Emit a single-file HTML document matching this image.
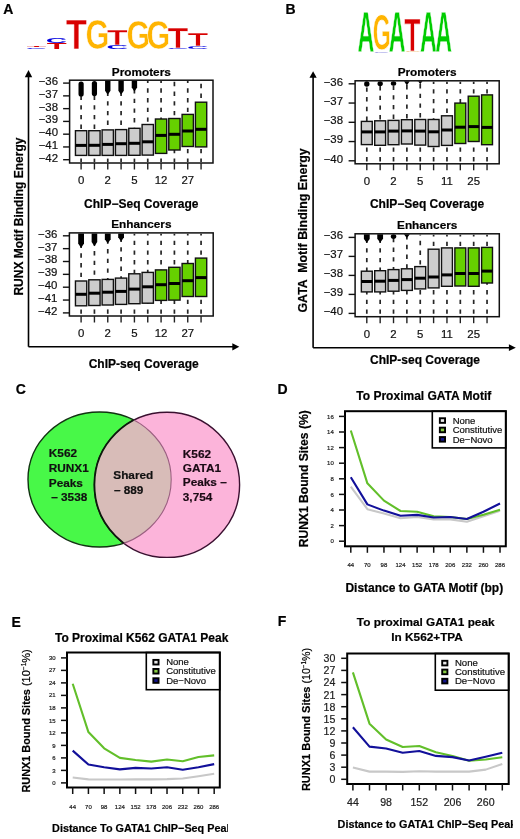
<!DOCTYPE html><html><head><meta charset="utf-8"><style>html,body{margin:0;padding:0;background:#fff;width:520px;height:839px;overflow:hidden}svg{display:block;will-change:transform}text{font-family:"Liberation Sans",sans-serif}</style></head><body>
<svg width="520" height="839" viewBox="0 0 520 839">
<rect width="520" height="839" fill="#fff"/>
<text x="3.2" y="14.1" font-size="14" font-weight="bold" text-anchor="start" fill="#000" stroke="#000" stroke-width="0.2" >A</text>
<text x="285.4" y="14.1" font-size="14" font-weight="bold" text-anchor="start" fill="#000" stroke="#000" stroke-width="0.2" >B</text>
<text x="15.8" y="394.2" font-size="14" font-weight="bold" text-anchor="start" fill="#000" stroke="#000" stroke-width="0.2" >C</text>
<text x="277.5" y="394.3" font-size="14" font-weight="bold" text-anchor="start" fill="#000" stroke="#000" stroke-width="0.2" >D</text>
<text x="11.5" y="627" font-size="14" font-weight="bold" text-anchor="start" fill="#000" stroke="#000" stroke-width="0.2" >E</text>
<text x="277.8" y="625.6" font-size="14" font-weight="bold" text-anchor="start" fill="#000" stroke="#000" stroke-width="0.2" >F</text>
<text x="0" y="0" font-size="100" font-weight="bold" fill="#d80000" transform="translate(26.65,46.9) scale(0.3226,0.0203)">T</text>
<text x="0" y="0" font-size="100" font-weight="bold" fill="#0000e0" transform="translate(25.81,48.58) scale(0.2905,0.0169)">C</text>
<text x="0" y="0" font-size="100" font-weight="bold" fill="#0000e0" transform="translate(45.8,43.12) scale(0.2936,0.0791)">C</text>
<text x="0" y="0" font-size="100" font-weight="bold" fill="#d80000" transform="translate(46.64,49) scale(0.3260,0.0814)">T</text>
<text x="0" y="0" font-size="100" font-weight="bold" fill="#d80000" stroke="#fff" stroke-width="0.6" vector-effect="non-scaling-stroke" transform="translate(65.82,49.3) scale(0.3497,0.4302)">T</text>
<text x="0" y="0" font-size="100" font-weight="bold" fill="#ffb400" stroke="#fff" stroke-width="0.6" vector-effect="non-scaling-stroke" transform="translate(85.44,49.08) scale(0.3081,0.4209)">G</text>
<text x="0" y="0" font-size="100" font-weight="bold" fill="#d80000" stroke="#fff" stroke-width="0.6" vector-effect="non-scaling-stroke" transform="translate(106.82,44.6) scale(0.3463,0.2137)">T</text>
<text x="0" y="0" font-size="100" font-weight="bold" fill="#0000e0" transform="translate(106.26,48.94) scale(0.3028,0.0621)">C</text>
<text x="0" y="0" font-size="100" font-weight="bold" fill="#ffb400" stroke="#fff" stroke-width="0.6" vector-effect="non-scaling-stroke" transform="translate(126.45,49.09) scale(0.3052,0.4124)">G</text>
<text x="0" y="0" font-size="100" font-weight="bold" fill="#ffb400" stroke="#fff" stroke-width="0.6" vector-effect="non-scaling-stroke" transform="translate(146.45,49.09) scale(0.3052,0.4124)">G</text>
<text x="0" y="0" font-size="100" font-weight="bold" fill="#d80000" stroke="#fff" stroke-width="0.6" vector-effect="non-scaling-stroke" transform="translate(167.62,47.5) scale(0.3413,0.2892)">T</text>
<text x="0" y="0" font-size="100" font-weight="bold" fill="#0000e0" transform="translate(167.08,48.88) scale(0.2982,0.0226)">C</text>
<text x="0" y="0" font-size="100" font-weight="bold" fill="#d80000" stroke="#fff" stroke-width="0.6" vector-effect="non-scaling-stroke" transform="translate(187.62,46) scale(0.3413,0.1860)">T</text>
<text x="0" y="0" font-size="100" font-weight="bold" fill="#0000e0" transform="translate(187.08,48.56) scale(0.2982,0.0395)">C</text>
<text x="0" y="0" font-size="100" font-weight="bold" fill="#00cc00" stroke="#fff" stroke-width="0.6" vector-effect="non-scaling-stroke" transform="translate(357.42,52.3) scale(0.2325,0.5799)">A</text>
<text x="0" y="0" font-size="100" font-weight="bold" fill="#ffb400" stroke="#fff" stroke-width="0.6" vector-effect="non-scaling-stroke" transform="translate(372.65,50.31) scale(0.2311,0.4944)">G</text>
<text x="0" y="0" font-size="100" font-weight="bold" fill="#9090e0" transform="translate(373.62,52.57) scale(0.2141,0.0254)">C</text>
<text x="0" y="0" font-size="100" font-weight="bold" fill="#00cc00" stroke="#fff" stroke-width="0.6" vector-effect="non-scaling-stroke" transform="translate(388.72,52.3) scale(0.2325,0.5799)">A</text>
<text x="0" y="0" font-size="100" font-weight="bold" fill="#d80000" stroke="#fff" stroke-width="0.6" vector-effect="non-scaling-stroke" transform="translate(404.21,50.9) scale(0.2649,0.4622)">T</text>
<text x="0" y="0" font-size="100" font-weight="bold" fill="#f0c080" transform="translate(404.65,52.47) scale(0.2074,0.0254)">G</text>
<text x="0" y="0" font-size="100" font-weight="bold" fill="#00cc00" stroke="#fff" stroke-width="0.6" vector-effect="non-scaling-stroke" transform="translate(419.92,52.3) scale(0.2325,0.5799)">A</text>
<text x="0" y="0" font-size="100" font-weight="bold" fill="#00cc00" stroke="#fff" stroke-width="0.6" vector-effect="non-scaling-stroke" transform="translate(435.32,52.3) scale(0.2325,0.5799)">A</text>
<line x1="81.1" y1="95.5" x2="81.1" y2="130.7" stroke="#262626" stroke-width="1.7" stroke-dasharray="4.4 5.3" stroke-dashoffset="0"/>
<line x1="81.1" y1="162.1" x2="81.1" y2="155.4" stroke="#262626" stroke-width="1.7" stroke-dasharray="4.4 5.3" stroke-dashoffset="0.9"/>
<rect x="75.45" y="130.7" width="11.3" height="24.7" fill="#cdcdcd" stroke="#111" stroke-width="1.4"/>
<line x1="75.45" y1="145.4" x2="86.75" y2="145.4" stroke="#000" stroke-width="3" />
<rect x="78.5" y="81.5" width="5.2" height="15.1" rx="2.6" fill="#000"/>
<line x1="94.43" y1="95.5" x2="94.43" y2="130.7" stroke="#262626" stroke-width="1.7" stroke-dasharray="4.4 5.3" stroke-dashoffset="0"/>
<line x1="94.43" y1="162.1" x2="94.43" y2="155.4" stroke="#262626" stroke-width="1.7" stroke-dasharray="4.4 5.3" stroke-dashoffset="0.9"/>
<rect x="88.78" y="130.7" width="11.3" height="24.7" fill="#cdcdcd" stroke="#111" stroke-width="1.4"/>
<line x1="88.78" y1="145.3" x2="100.08" y2="145.3" stroke="#000" stroke-width="3" />
<rect x="91.83" y="81" width="5.2" height="15.2" rx="2.6" fill="#000"/>
<line x1="107.76" y1="91.5" x2="107.76" y2="129.9" stroke="#262626" stroke-width="1.7" stroke-dasharray="4.4 5.3" stroke-dashoffset="0"/>
<line x1="107.76" y1="162.1" x2="107.76" y2="155.4" stroke="#262626" stroke-width="1.7" stroke-dasharray="4.4 5.3" stroke-dashoffset="0.9"/>
<rect x="102.11" y="129.9" width="11.3" height="25.5" fill="#cdcdcd" stroke="#111" stroke-width="1.4"/>
<line x1="102.11" y1="144.4" x2="113.41" y2="144.4" stroke="#000" stroke-width="3" />
<path d="M105.06,80.5 H110.46 V90.75 L107.76,94.8 L105.06,90.75 Z" fill="#000"/>
<line x1="121.09" y1="91.5" x2="121.09" y2="129.6" stroke="#262626" stroke-width="1.7" stroke-dasharray="4.4 5.3" stroke-dashoffset="0"/>
<line x1="121.09" y1="162.1" x2="121.09" y2="155.4" stroke="#262626" stroke-width="1.7" stroke-dasharray="4.4 5.3" stroke-dashoffset="0.9"/>
<rect x="115.44" y="129.6" width="11.3" height="25.8" fill="#cdcdcd" stroke="#111" stroke-width="1.4"/>
<line x1="115.44" y1="143.7" x2="126.74" y2="143.7" stroke="#000" stroke-width="3" />
<path d="M118.39,80.5 H123.79 V90.75 L121.09,94.8 L118.39,90.75 Z" fill="#000"/>
<line x1="134.42" y1="89" x2="134.42" y2="128.3" stroke="#262626" stroke-width="1.7" stroke-dasharray="4.4 5.3" stroke-dashoffset="0"/>
<line x1="134.42" y1="162.1" x2="134.42" y2="155.3" stroke="#262626" stroke-width="1.7" stroke-dasharray="4.4 5.3" stroke-dashoffset="0.9"/>
<rect x="128.77" y="128.3" width="11.3" height="27" fill="#cdcdcd" stroke="#111" stroke-width="1.4"/>
<line x1="128.77" y1="143.3" x2="140.07" y2="143.3" stroke="#000" stroke-width="3" />
<path d="M131.72,80.5 H137.12 V87.45 L134.42,91.5 L131.72,87.45 Z" fill="#000"/>
<line x1="147.75" y1="81.1" x2="147.75" y2="124.5" stroke="#262626" stroke-width="1.7" stroke-dasharray="4.4 5.3" stroke-dashoffset="2.5"/>
<line x1="147.75" y1="162.1" x2="147.75" y2="155.1" stroke="#262626" stroke-width="1.7" stroke-dasharray="4.4 5.3" stroke-dashoffset="0.9"/>
<rect x="142.1" y="124.5" width="11.3" height="30.6" fill="#cdcdcd" stroke="#111" stroke-width="1.4"/>
<line x1="142.1" y1="141.8" x2="153.4" y2="141.8" stroke="#000" stroke-width="3" />
<line x1="161.08" y1="81.1" x2="161.08" y2="119" stroke="#262626" stroke-width="1.7" stroke-dasharray="4.4 5.3" stroke-dashoffset="2.5"/>
<line x1="161.08" y1="162.1" x2="161.08" y2="153.4" stroke="#262626" stroke-width="1.7" stroke-dasharray="4.4 5.3" stroke-dashoffset="0.9"/>
<rect x="155.43" y="119" width="11.3" height="34.4" fill="#66d000" stroke="#111" stroke-width="1.4"/>
<line x1="155.43" y1="135.4" x2="166.73" y2="135.4" stroke="#000" stroke-width="3" />
<line x1="174.41" y1="81.8" x2="174.41" y2="118.5" stroke="#262626" stroke-width="1.7" stroke-dasharray="4.4 5.3" stroke-dashoffset="0"/>
<line x1="174.41" y1="162.1" x2="174.41" y2="150" stroke="#262626" stroke-width="1.7" stroke-dasharray="4.4 5.3" stroke-dashoffset="0.9"/>
<rect x="168.76" y="118.5" width="11.3" height="31.5" fill="#66d000" stroke="#111" stroke-width="1.4"/>
<line x1="168.76" y1="134.3" x2="180.06" y2="134.3" stroke="#000" stroke-width="3" />
<line x1="187.74" y1="81.1" x2="187.74" y2="114.4" stroke="#262626" stroke-width="1.7" stroke-dasharray="4.4 5.3" stroke-dashoffset="2.5"/>
<line x1="187.74" y1="162.1" x2="187.74" y2="146.5" stroke="#262626" stroke-width="1.7" stroke-dasharray="4.4 5.3" stroke-dashoffset="0.9"/>
<rect x="182.09" y="114.4" width="11.3" height="32.1" fill="#66d000" stroke="#111" stroke-width="1.4"/>
<line x1="182.09" y1="131" x2="193.39" y2="131" stroke="#000" stroke-width="3" />
<line x1="201.07" y1="83.8" x2="201.07" y2="102.2" stroke="#262626" stroke-width="1.7" stroke-dasharray="4.4 5.3" stroke-dashoffset="0"/>
<line x1="201.07" y1="162.1" x2="201.07" y2="146.9" stroke="#262626" stroke-width="1.7" stroke-dasharray="4.4 5.3" stroke-dashoffset="0.9"/>
<rect x="195.42" y="102.2" width="11.3" height="44.7" fill="#66d000" stroke="#111" stroke-width="1.4"/>
<line x1="195.42" y1="129.3" x2="206.72" y2="129.3" stroke="#000" stroke-width="3" />
<rect x="69.6" y="80.2" width="143.4" height="82.8" fill="none" stroke="#111" stroke-width="1.5"/>
<line x1="63.1" y1="83.1" x2="69.6" y2="83.1" stroke="#111" stroke-width="1.4" />
<text x="58" y="85" font-size="11.4" font-weight="normal" text-anchor="end" fill="#111" stroke="#111" stroke-width="0.2" >−36</text>
<line x1="63.1" y1="95.87" x2="69.6" y2="95.87" stroke="#111" stroke-width="1.4" />
<text x="58" y="97.77" font-size="11.4" font-weight="normal" text-anchor="end" fill="#111" stroke="#111" stroke-width="0.2" >−37</text>
<line x1="63.1" y1="108.64" x2="69.6" y2="108.64" stroke="#111" stroke-width="1.4" />
<text x="58" y="110.54" font-size="11.4" font-weight="normal" text-anchor="end" fill="#111" stroke="#111" stroke-width="0.2" >−38</text>
<line x1="63.1" y1="121.41" x2="69.6" y2="121.41" stroke="#111" stroke-width="1.4" />
<text x="58" y="123.31" font-size="11.4" font-weight="normal" text-anchor="end" fill="#111" stroke="#111" stroke-width="0.2" >−39</text>
<line x1="63.1" y1="134.18" x2="69.6" y2="134.18" stroke="#111" stroke-width="1.4" />
<text x="58" y="136.08" font-size="11.4" font-weight="normal" text-anchor="end" fill="#111" stroke="#111" stroke-width="0.2" >−40</text>
<line x1="63.1" y1="146.95" x2="69.6" y2="146.95" stroke="#111" stroke-width="1.4" />
<text x="58" y="148.85" font-size="11.4" font-weight="normal" text-anchor="end" fill="#111" stroke="#111" stroke-width="0.2" >−41</text>
<line x1="63.1" y1="159.72" x2="69.6" y2="159.72" stroke="#111" stroke-width="1.4" />
<text x="58" y="161.62" font-size="11.4" font-weight="normal" text-anchor="end" fill="#111" stroke="#111" stroke-width="0.2" >−42</text>
<line x1="81.1" y1="163" x2="81.1" y2="169.5" stroke="#222" stroke-width="1.4" />
<line x1="94.43" y1="163" x2="94.43" y2="169.5" stroke="#222" stroke-width="1.4" />
<line x1="107.76" y1="163" x2="107.76" y2="169.5" stroke="#222" stroke-width="1.4" />
<line x1="121.09" y1="163" x2="121.09" y2="169.5" stroke="#222" stroke-width="1.4" />
<line x1="134.42" y1="163" x2="134.42" y2="169.5" stroke="#222" stroke-width="1.4" />
<line x1="147.75" y1="163" x2="147.75" y2="169.5" stroke="#222" stroke-width="1.4" />
<line x1="161.08" y1="163" x2="161.08" y2="169.5" stroke="#222" stroke-width="1.4" />
<line x1="174.41" y1="163" x2="174.41" y2="169.5" stroke="#222" stroke-width="1.4" />
<line x1="187.74" y1="163" x2="187.74" y2="169.5" stroke="#222" stroke-width="1.4" />
<line x1="201.07" y1="163" x2="201.07" y2="169.5" stroke="#222" stroke-width="1.4" />
<text x="81.1" y="184.3" font-size="11.4" font-weight="normal" text-anchor="middle" fill="#111" stroke="#111" stroke-width="0.2" >0</text>
<text x="107.76" y="184.3" font-size="11.4" font-weight="normal" text-anchor="middle" fill="#111" stroke="#111" stroke-width="0.2" >2</text>
<text x="134.42" y="184.3" font-size="11.4" font-weight="normal" text-anchor="middle" fill="#111" stroke="#111" stroke-width="0.2" >5</text>
<text x="161.08" y="184.3" font-size="11.4" font-weight="normal" text-anchor="middle" fill="#111" stroke="#111" stroke-width="0.2" >12</text>
<text x="187.74" y="184.3" font-size="11.4" font-weight="normal" text-anchor="middle" fill="#111" stroke="#111" stroke-width="0.2" >27</text>
<text x="141.3" y="75.6" font-size="11.8" font-weight="bold" text-anchor="middle" fill="#000" stroke="#000" stroke-width="0.2" >Promoters</text>
<text x="141.3" y="207.5" font-size="12" font-weight="bold" text-anchor="middle" fill="#000" stroke="#000" stroke-width="0.2" >ChIP−Seq Coverage</text>
<line x1="81.1" y1="243.6" x2="81.1" y2="281" stroke="#262626" stroke-width="1.7" stroke-dasharray="4.4 5.3" stroke-dashoffset="0"/>
<line x1="81.1" y1="313.8" x2="81.1" y2="305.8" stroke="#262626" stroke-width="1.7" stroke-dasharray="4.4 5.3" stroke-dashoffset="0"/>
<rect x="75.45" y="281" width="11.3" height="24.8" fill="#cdcdcd" stroke="#111" stroke-width="1.4"/>
<line x1="75.45" y1="294.3" x2="86.75" y2="294.3" stroke="#000" stroke-width="3" />
<path d="M78.2,233.5 H84 V243.55 L81.1,247.9 L78.2,243.55 Z" fill="#000"/>
<line x1="94.43" y1="241.3" x2="94.43" y2="279.8" stroke="#262626" stroke-width="1.7" stroke-dasharray="4.4 5.3" stroke-dashoffset="0"/>
<line x1="94.43" y1="313.8" x2="94.43" y2="305.5" stroke="#262626" stroke-width="1.7" stroke-dasharray="4.4 5.3" stroke-dashoffset="0"/>
<rect x="88.78" y="279.8" width="11.3" height="25.7" fill="#cdcdcd" stroke="#111" stroke-width="1.4"/>
<line x1="88.78" y1="293.2" x2="100.08" y2="293.2" stroke="#000" stroke-width="3" />
<path d="M91.63,233.5 H97.23 V242 L94.43,246.2 L91.63,242 Z" fill="#000"/>
<line x1="107.76" y1="239.3" x2="107.76" y2="279.4" stroke="#262626" stroke-width="1.7" stroke-dasharray="4.4 5.3" stroke-dashoffset="0"/>
<line x1="107.76" y1="313.8" x2="107.76" y2="305" stroke="#262626" stroke-width="1.7" stroke-dasharray="4.4 5.3" stroke-dashoffset="0"/>
<rect x="102.11" y="279.4" width="11.3" height="25.6" fill="#cdcdcd" stroke="#111" stroke-width="1.4"/>
<line x1="102.11" y1="292.2" x2="113.41" y2="292.2" stroke="#000" stroke-width="3" />
<path d="M104.86,233.5 H110.66 V239.25 L107.76,243.6 L104.86,239.25 Z" fill="#000"/>
<line x1="121.09" y1="237.5" x2="121.09" y2="278.1" stroke="#262626" stroke-width="1.7" stroke-dasharray="4.4 5.3" stroke-dashoffset="0"/>
<line x1="121.09" y1="313.8" x2="121.09" y2="304.4" stroke="#262626" stroke-width="1.7" stroke-dasharray="4.4 5.3" stroke-dashoffset="0"/>
<rect x="115.44" y="278.1" width="11.3" height="26.3" fill="#cdcdcd" stroke="#111" stroke-width="1.4"/>
<line x1="115.44" y1="291.4" x2="126.74" y2="291.4" stroke="#000" stroke-width="3" />
<path d="M118.19,233.5 H123.99 V237.15 L121.09,241.5 L118.19,237.15 Z" fill="#000"/>
<line x1="134.42" y1="233.8" x2="134.42" y2="273.8" stroke="#262626" stroke-width="1.7" stroke-dasharray="4.4 5.3" stroke-dashoffset="2.8"/>
<line x1="134.42" y1="313.8" x2="134.42" y2="303.7" stroke="#262626" stroke-width="1.7" stroke-dasharray="4.4 5.3" stroke-dashoffset="0"/>
<rect x="128.77" y="273.8" width="11.3" height="29.9" fill="#cdcdcd" stroke="#111" stroke-width="1.4"/>
<line x1="128.77" y1="289.1" x2="140.07" y2="289.1" stroke="#000" stroke-width="3" />
<line x1="147.75" y1="233.8" x2="147.75" y2="272.4" stroke="#262626" stroke-width="1.7" stroke-dasharray="4.4 5.3" stroke-dashoffset="2.8"/>
<line x1="147.75" y1="313.8" x2="147.75" y2="303.2" stroke="#262626" stroke-width="1.7" stroke-dasharray="4.4 5.3" stroke-dashoffset="0"/>
<rect x="142.1" y="272.4" width="11.3" height="30.8" fill="#cdcdcd" stroke="#111" stroke-width="1.4"/>
<line x1="142.1" y1="286.8" x2="153.4" y2="286.8" stroke="#000" stroke-width="3" />
<line x1="161.08" y1="233.8" x2="161.08" y2="269.9" stroke="#262626" stroke-width="1.7" stroke-dasharray="4.4 5.3" stroke-dashoffset="2.8"/>
<line x1="161.08" y1="313.8" x2="161.08" y2="300.4" stroke="#262626" stroke-width="1.7" stroke-dasharray="4.4 5.3" stroke-dashoffset="0"/>
<rect x="155.43" y="269.9" width="11.3" height="30.5" fill="#66d000" stroke="#111" stroke-width="1.4"/>
<line x1="155.43" y1="284.7" x2="166.73" y2="284.7" stroke="#000" stroke-width="3" />
<line x1="174.41" y1="233.8" x2="174.41" y2="267.3" stroke="#262626" stroke-width="1.7" stroke-dasharray="4.4 5.3" stroke-dashoffset="2.8"/>
<line x1="174.41" y1="313.8" x2="174.41" y2="300.1" stroke="#262626" stroke-width="1.7" stroke-dasharray="4.4 5.3" stroke-dashoffset="0"/>
<rect x="168.76" y="267.3" width="11.3" height="32.8" fill="#66d000" stroke="#111" stroke-width="1.4"/>
<line x1="168.76" y1="283.5" x2="180.06" y2="283.5" stroke="#000" stroke-width="3" />
<line x1="187.74" y1="233.8" x2="187.74" y2="263.5" stroke="#262626" stroke-width="1.7" stroke-dasharray="4.4 5.3" stroke-dashoffset="2.8"/>
<line x1="187.74" y1="313.8" x2="187.74" y2="296.5" stroke="#262626" stroke-width="1.7" stroke-dasharray="4.4 5.3" stroke-dashoffset="0"/>
<rect x="182.09" y="263.5" width="11.3" height="33" fill="#66d000" stroke="#111" stroke-width="1.4"/>
<line x1="182.09" y1="280.7" x2="193.39" y2="280.7" stroke="#000" stroke-width="3" />
<line x1="201.07" y1="233.8" x2="201.07" y2="258.1" stroke="#262626" stroke-width="1.7" stroke-dasharray="4.4 5.3" stroke-dashoffset="2.8"/>
<line x1="201.07" y1="313.8" x2="201.07" y2="296.5" stroke="#262626" stroke-width="1.7" stroke-dasharray="4.4 5.3" stroke-dashoffset="0"/>
<rect x="195.42" y="258.1" width="11.3" height="38.4" fill="#66d000" stroke="#111" stroke-width="1.4"/>
<line x1="195.42" y1="277.6" x2="206.72" y2="277.6" stroke="#000" stroke-width="3" />
<rect x="69.4" y="232.9" width="143.8" height="83.1" fill="none" stroke="#111" stroke-width="1.5"/>
<line x1="62.9" y1="235.8" x2="69.4" y2="235.8" stroke="#111" stroke-width="1.4" />
<text x="57.4" y="237.7" font-size="11.4" font-weight="normal" text-anchor="end" fill="#111" stroke="#111" stroke-width="0.2" >−36</text>
<line x1="62.9" y1="248.65" x2="69.4" y2="248.65" stroke="#111" stroke-width="1.4" />
<text x="57.4" y="250.55" font-size="11.4" font-weight="normal" text-anchor="end" fill="#111" stroke="#111" stroke-width="0.2" >−37</text>
<line x1="62.9" y1="261.5" x2="69.4" y2="261.5" stroke="#111" stroke-width="1.4" />
<text x="57.4" y="263.4" font-size="11.4" font-weight="normal" text-anchor="end" fill="#111" stroke="#111" stroke-width="0.2" >−38</text>
<line x1="62.9" y1="274.35" x2="69.4" y2="274.35" stroke="#111" stroke-width="1.4" />
<text x="57.4" y="276.25" font-size="11.4" font-weight="normal" text-anchor="end" fill="#111" stroke="#111" stroke-width="0.2" >−39</text>
<line x1="62.9" y1="287.2" x2="69.4" y2="287.2" stroke="#111" stroke-width="1.4" />
<text x="57.4" y="289.1" font-size="11.4" font-weight="normal" text-anchor="end" fill="#111" stroke="#111" stroke-width="0.2" >−40</text>
<line x1="62.9" y1="300.05" x2="69.4" y2="300.05" stroke="#111" stroke-width="1.4" />
<text x="57.4" y="301.95" font-size="11.4" font-weight="normal" text-anchor="end" fill="#111" stroke="#111" stroke-width="0.2" >−41</text>
<line x1="62.9" y1="312.9" x2="69.4" y2="312.9" stroke="#111" stroke-width="1.4" />
<text x="57.4" y="314.8" font-size="11.4" font-weight="normal" text-anchor="end" fill="#111" stroke="#111" stroke-width="0.2" >−42</text>
<line x1="81.1" y1="316" x2="81.1" y2="322.5" stroke="#222" stroke-width="1.4" />
<line x1="94.43" y1="316" x2="94.43" y2="322.5" stroke="#222" stroke-width="1.4" />
<line x1="107.76" y1="316" x2="107.76" y2="322.5" stroke="#222" stroke-width="1.4" />
<line x1="121.09" y1="316" x2="121.09" y2="322.5" stroke="#222" stroke-width="1.4" />
<line x1="134.42" y1="316" x2="134.42" y2="322.5" stroke="#222" stroke-width="1.4" />
<line x1="147.75" y1="316" x2="147.75" y2="322.5" stroke="#222" stroke-width="1.4" />
<line x1="161.08" y1="316" x2="161.08" y2="322.5" stroke="#222" stroke-width="1.4" />
<line x1="174.41" y1="316" x2="174.41" y2="322.5" stroke="#222" stroke-width="1.4" />
<line x1="187.74" y1="316" x2="187.74" y2="322.5" stroke="#222" stroke-width="1.4" />
<line x1="201.07" y1="316" x2="201.07" y2="322.5" stroke="#222" stroke-width="1.4" />
<text x="81.1" y="336.8" font-size="11.4" font-weight="normal" text-anchor="middle" fill="#111" stroke="#111" stroke-width="0.2" >0</text>
<text x="107.76" y="336.8" font-size="11.4" font-weight="normal" text-anchor="middle" fill="#111" stroke="#111" stroke-width="0.2" >2</text>
<text x="134.42" y="336.8" font-size="11.4" font-weight="normal" text-anchor="middle" fill="#111" stroke="#111" stroke-width="0.2" >5</text>
<text x="161.08" y="336.8" font-size="11.4" font-weight="normal" text-anchor="middle" fill="#111" stroke="#111" stroke-width="0.2" >12</text>
<text x="187.74" y="336.8" font-size="11.4" font-weight="normal" text-anchor="middle" fill="#111" stroke="#111" stroke-width="0.2" >27</text>
<text x="141.3" y="228.3" font-size="11.8" font-weight="bold" text-anchor="middle" fill="#000" stroke="#000" stroke-width="0.2" >Enhancers</text>
<line x1="28.5" y1="76" x2="28.5" y2="346.8" stroke="#000" stroke-width="1.6" />
<line x1="28.5" y1="346.8" x2="233" y2="346.8" stroke="#000" stroke-width="1.6" />
<path d="M24.8,77.2 L28.5,70 L32.2,77.2 Z" fill="#000"/>
<path d="M232.3,343.2 L239.3,346.8 L232.3,350.4 Z" fill="#000"/>
<text x="143.7" y="368.3" font-size="12" font-weight="bold" text-anchor="middle" fill="#000" stroke="#000" stroke-width="0.2" >ChIP-seq Coverage</text>
<text transform="translate(23.2,216.6) rotate(-90)" font-size="12" font-weight="bold" stroke="#000" stroke-width="0.2" text-anchor="middle">RUNX Motif Binding Energy</text>
<line x1="366.8" y1="87.4" x2="366.8" y2="121.4" stroke="#262626" stroke-width="1.7" stroke-dasharray="4.4 5.3" stroke-dashoffset="0"/>
<line x1="366.8" y1="161.5" x2="366.8" y2="144.6" stroke="#262626" stroke-width="1.7" stroke-dasharray="4.4 5.3" stroke-dashoffset="0"/>
<rect x="361.35" y="121.4" width="10.9" height="23.2" fill="#cdcdcd" stroke="#111" stroke-width="1.4"/>
<line x1="361.35" y1="131.9" x2="372.25" y2="131.9" stroke="#000" stroke-width="3" />
<rect x="364.1" y="81.2" width="5.4" height="5.6" rx="2.7" fill="#000"/>
<line x1="380.16" y1="86" x2="380.16" y2="120.8" stroke="#262626" stroke-width="1.7" stroke-dasharray="4.4 5.3" stroke-dashoffset="0"/>
<line x1="380.16" y1="161.5" x2="380.16" y2="145.3" stroke="#262626" stroke-width="1.7" stroke-dasharray="4.4 5.3" stroke-dashoffset="0"/>
<rect x="374.71" y="120.8" width="10.9" height="24.5" fill="#cdcdcd" stroke="#111" stroke-width="1.4"/>
<line x1="374.71" y1="131.9" x2="385.61" y2="131.9" stroke="#000" stroke-width="3" />
<rect x="377.46" y="81.2" width="5.4" height="4.9" rx="2.7" fill="#000"/>
<line x1="393.52" y1="85.5" x2="393.52" y2="120.4" stroke="#262626" stroke-width="1.7" stroke-dasharray="4.4 5.3" stroke-dashoffset="0"/>
<line x1="393.52" y1="161.5" x2="393.52" y2="144.7" stroke="#262626" stroke-width="1.7" stroke-dasharray="4.4 5.3" stroke-dashoffset="0"/>
<rect x="388.07" y="120.4" width="10.9" height="24.3" fill="#cdcdcd" stroke="#111" stroke-width="1.4"/>
<line x1="388.07" y1="131.1" x2="398.97" y2="131.1" stroke="#000" stroke-width="3" />
<rect x="390.82" y="81.2" width="5.4" height="4.5" rx="2.7" fill="#000"/>
<line x1="406.88" y1="85" x2="406.88" y2="119.7" stroke="#262626" stroke-width="1.7" stroke-dasharray="4.4 5.3" stroke-dashoffset="0"/>
<line x1="406.88" y1="161.5" x2="406.88" y2="144" stroke="#262626" stroke-width="1.7" stroke-dasharray="4.4 5.3" stroke-dashoffset="0"/>
<rect x="401.43" y="119.7" width="10.9" height="24.3" fill="#cdcdcd" stroke="#111" stroke-width="1.4"/>
<line x1="401.43" y1="130.9" x2="412.33" y2="130.9" stroke="#000" stroke-width="3" />
<path d="M404.08,81.2 H409.68 V81.2 L406.88,85.4 L404.08,81.2 Z" fill="#000"/>
<line x1="420.24" y1="84" x2="420.24" y2="119.5" stroke="#262626" stroke-width="1.7" stroke-dasharray="4.4 5.3" stroke-dashoffset="0"/>
<line x1="420.24" y1="161.5" x2="420.24" y2="145.1" stroke="#262626" stroke-width="1.7" stroke-dasharray="4.4 5.3" stroke-dashoffset="0"/>
<rect x="414.79" y="119.5" width="10.9" height="25.6" fill="#cdcdcd" stroke="#111" stroke-width="1.4"/>
<line x1="414.79" y1="131.1" x2="425.69" y2="131.1" stroke="#000" stroke-width="3" />
<path d="M417.64,81.2 H422.84 V80.4 L420.24,84.3 L417.64,80.4 Z" fill="#000"/>
<line x1="433.6" y1="81.7" x2="433.6" y2="119.5" stroke="#262626" stroke-width="1.7" stroke-dasharray="4.4 5.3" stroke-dashoffset="2.2"/>
<line x1="433.6" y1="161.5" x2="433.6" y2="146.5" stroke="#262626" stroke-width="1.7" stroke-dasharray="4.4 5.3" stroke-dashoffset="0"/>
<rect x="428.15" y="119.5" width="10.9" height="27" fill="#cdcdcd" stroke="#111" stroke-width="1.4"/>
<line x1="428.15" y1="131.8" x2="439.05" y2="131.8" stroke="#000" stroke-width="3" />
<line x1="446.96" y1="81.7" x2="446.96" y2="115.8" stroke="#262626" stroke-width="1.7" stroke-dasharray="4.4 5.3" stroke-dashoffset="2.2"/>
<line x1="446.96" y1="161.5" x2="446.96" y2="145.4" stroke="#262626" stroke-width="1.7" stroke-dasharray="4.4 5.3" stroke-dashoffset="0"/>
<rect x="441.51" y="115.8" width="10.9" height="29.6" fill="#cdcdcd" stroke="#111" stroke-width="1.4"/>
<line x1="441.51" y1="130" x2="452.41" y2="130" stroke="#000" stroke-width="3" />
<line x1="460.32" y1="81.7" x2="460.32" y2="103.1" stroke="#262626" stroke-width="1.7" stroke-dasharray="4.4 5.3" stroke-dashoffset="2.2"/>
<line x1="460.32" y1="161.5" x2="460.32" y2="143.5" stroke="#262626" stroke-width="1.7" stroke-dasharray="4.4 5.3" stroke-dashoffset="0"/>
<rect x="454.87" y="103.1" width="10.9" height="40.4" fill="#66d000" stroke="#111" stroke-width="1.4"/>
<line x1="454.87" y1="127.2" x2="465.77" y2="127.2" stroke="#000" stroke-width="3" />
<line x1="473.68" y1="81.7" x2="473.68" y2="96.2" stroke="#262626" stroke-width="1.7" stroke-dasharray="4.4 5.3" stroke-dashoffset="2.2"/>
<line x1="473.68" y1="161.5" x2="473.68" y2="141.5" stroke="#262626" stroke-width="1.7" stroke-dasharray="4.4 5.3" stroke-dashoffset="0"/>
<rect x="468.23" y="96.2" width="10.9" height="45.3" fill="#66d000" stroke="#111" stroke-width="1.4"/>
<line x1="468.23" y1="126.6" x2="479.13" y2="126.6" stroke="#000" stroke-width="3" />
<line x1="487.04" y1="81.7" x2="487.04" y2="94.9" stroke="#262626" stroke-width="1.7" stroke-dasharray="4.4 5.3" stroke-dashoffset="2.2"/>
<line x1="487.04" y1="161.5" x2="487.04" y2="144.7" stroke="#262626" stroke-width="1.7" stroke-dasharray="4.4 5.3" stroke-dashoffset="0"/>
<rect x="481.59" y="94.9" width="10.9" height="49.8" fill="#66d000" stroke="#111" stroke-width="1.4"/>
<line x1="481.59" y1="127.4" x2="492.49" y2="127.4" stroke="#000" stroke-width="3" />
<rect x="355.1" y="80.8" width="144.1" height="83" fill="none" stroke="#111" stroke-width="1.5"/>
<line x1="348.6" y1="83.8" x2="355.1" y2="83.8" stroke="#111" stroke-width="1.4" />
<text x="343" y="85.7" font-size="11.4" font-weight="normal" text-anchor="end" fill="#111" stroke="#111" stroke-width="0.2" >−36</text>
<line x1="348.6" y1="103.05" x2="355.1" y2="103.05" stroke="#111" stroke-width="1.4" />
<text x="343" y="104.95" font-size="11.4" font-weight="normal" text-anchor="end" fill="#111" stroke="#111" stroke-width="0.2" >−37</text>
<line x1="348.6" y1="122.3" x2="355.1" y2="122.3" stroke="#111" stroke-width="1.4" />
<text x="343" y="124.2" font-size="11.4" font-weight="normal" text-anchor="end" fill="#111" stroke="#111" stroke-width="0.2" >−38</text>
<line x1="348.6" y1="141.55" x2="355.1" y2="141.55" stroke="#111" stroke-width="1.4" />
<text x="343" y="143.45" font-size="11.4" font-weight="normal" text-anchor="end" fill="#111" stroke="#111" stroke-width="0.2" >−39</text>
<line x1="348.6" y1="160.8" x2="355.1" y2="160.8" stroke="#111" stroke-width="1.4" />
<text x="343" y="162.7" font-size="11.4" font-weight="normal" text-anchor="end" fill="#111" stroke="#111" stroke-width="0.2" >−40</text>
<line x1="366.8" y1="163.8" x2="366.8" y2="170.3" stroke="#222" stroke-width="1.4" />
<line x1="380.16" y1="163.8" x2="380.16" y2="170.3" stroke="#222" stroke-width="1.4" />
<line x1="393.52" y1="163.8" x2="393.52" y2="170.3" stroke="#222" stroke-width="1.4" />
<line x1="406.88" y1="163.8" x2="406.88" y2="170.3" stroke="#222" stroke-width="1.4" />
<line x1="420.24" y1="163.8" x2="420.24" y2="170.3" stroke="#222" stroke-width="1.4" />
<line x1="433.6" y1="163.8" x2="433.6" y2="170.3" stroke="#222" stroke-width="1.4" />
<line x1="446.96" y1="163.8" x2="446.96" y2="170.3" stroke="#222" stroke-width="1.4" />
<line x1="460.32" y1="163.8" x2="460.32" y2="170.3" stroke="#222" stroke-width="1.4" />
<line x1="473.68" y1="163.8" x2="473.68" y2="170.3" stroke="#222" stroke-width="1.4" />
<line x1="487.04" y1="163.8" x2="487.04" y2="170.3" stroke="#222" stroke-width="1.4" />
<text x="366.8" y="185.3" font-size="11.4" font-weight="normal" text-anchor="middle" fill="#111" stroke="#111" stroke-width="0.2" >0</text>
<text x="393.52" y="185.3" font-size="11.4" font-weight="normal" text-anchor="middle" fill="#111" stroke="#111" stroke-width="0.2" >2</text>
<text x="420.24" y="185.3" font-size="11.4" font-weight="normal" text-anchor="middle" fill="#111" stroke="#111" stroke-width="0.2" >5</text>
<text x="446.96" y="185.3" font-size="11.4" font-weight="normal" text-anchor="middle" fill="#111" stroke="#111" stroke-width="0.2" >11</text>
<text x="473.68" y="185.3" font-size="11.4" font-weight="normal" text-anchor="middle" fill="#111" stroke="#111" stroke-width="0.2" >25</text>
<text x="427.15" y="76.3" font-size="11.8" font-weight="bold" text-anchor="middle" fill="#000" stroke="#000" stroke-width="0.2" >Promoters</text>
<text x="427.1" y="208.3" font-size="12" font-weight="bold" text-anchor="middle" fill="#000" stroke="#000" stroke-width="0.2" >ChIP−Seq Coverage</text>
<line x1="366.8" y1="238.5" x2="366.8" y2="271.2" stroke="#262626" stroke-width="1.7" stroke-dasharray="4.4 5.3" stroke-dashoffset="0"/>
<line x1="366.8" y1="313.8" x2="366.8" y2="291.9" stroke="#262626" stroke-width="1.7" stroke-dasharray="4.4 5.3" stroke-dashoffset="0"/>
<rect x="361.35" y="271.2" width="10.9" height="20.7" fill="#cdcdcd" stroke="#111" stroke-width="1.4"/>
<line x1="361.35" y1="281.5" x2="372.25" y2="281.5" stroke="#000" stroke-width="3" />
<path d="M363.9,234.2 H369.7 V239.03 L366.8,242.8 L363.9,239.03 Z" fill="#000"/>
<line x1="380.16" y1="238.5" x2="380.16" y2="270.7" stroke="#262626" stroke-width="1.7" stroke-dasharray="4.4 5.3" stroke-dashoffset="0"/>
<line x1="380.16" y1="313.8" x2="380.16" y2="291.9" stroke="#262626" stroke-width="1.7" stroke-dasharray="4.4 5.3" stroke-dashoffset="0"/>
<rect x="374.71" y="270.7" width="10.9" height="21.2" fill="#cdcdcd" stroke="#111" stroke-width="1.4"/>
<line x1="374.71" y1="281.2" x2="385.61" y2="281.2" stroke="#000" stroke-width="3" />
<path d="M377.26,234.2 H383.06 V238.73 L380.16,242.5 L377.26,238.73 Z" fill="#000"/>
<line x1="393.52" y1="237.8" x2="393.52" y2="269.6" stroke="#262626" stroke-width="1.7" stroke-dasharray="4.4 5.3" stroke-dashoffset="0"/>
<line x1="393.52" y1="313.8" x2="393.52" y2="291.2" stroke="#262626" stroke-width="1.7" stroke-dasharray="4.4 5.3" stroke-dashoffset="0"/>
<rect x="388.07" y="269.6" width="10.9" height="21.6" fill="#cdcdcd" stroke="#111" stroke-width="1.4"/>
<line x1="388.07" y1="280.4" x2="398.97" y2="280.4" stroke="#000" stroke-width="3" />
<rect x="390.77" y="234.2" width="5.5" height="4.6" rx="2.75" fill="#000"/>
<line x1="406.88" y1="235.1" x2="406.88" y2="268.8" stroke="#262626" stroke-width="1.7" stroke-dasharray="4.4 5.3" stroke-dashoffset="0"/>
<line x1="406.88" y1="313.8" x2="406.88" y2="290.4" stroke="#262626" stroke-width="1.7" stroke-dasharray="4.4 5.3" stroke-dashoffset="0"/>
<rect x="401.43" y="268.8" width="10.9" height="21.6" fill="#cdcdcd" stroke="#111" stroke-width="1.4"/>
<line x1="401.43" y1="279.6" x2="412.33" y2="279.6" stroke="#000" stroke-width="3" />
<path d="M403.88,234.2 H409.88 V234.2 L406.88,238.1 L403.88,234.2 Z" fill="#000"/>
<line x1="420.24" y1="234.7" x2="420.24" y2="266.6" stroke="#262626" stroke-width="1.7" stroke-dasharray="4.4 5.3" stroke-dashoffset="3.6"/>
<line x1="420.24" y1="313.8" x2="420.24" y2="288.9" stroke="#262626" stroke-width="1.7" stroke-dasharray="4.4 5.3" stroke-dashoffset="0"/>
<rect x="414.79" y="266.6" width="10.9" height="22.3" fill="#cdcdcd" stroke="#111" stroke-width="1.4"/>
<line x1="414.79" y1="278.2" x2="425.69" y2="278.2" stroke="#000" stroke-width="3" />
<line x1="433.6" y1="234.7" x2="433.6" y2="249.2" stroke="#262626" stroke-width="1.7" stroke-dasharray="4.4 5.3" stroke-dashoffset="2.7"/>
<line x1="433.6" y1="313.8" x2="433.6" y2="287.9" stroke="#262626" stroke-width="1.7" stroke-dasharray="4.4 5.3" stroke-dashoffset="0"/>
<rect x="428.15" y="249.2" width="10.9" height="38.7" fill="#cdcdcd" stroke="#111" stroke-width="1.4"/>
<line x1="428.15" y1="277" x2="439.05" y2="277" stroke="#000" stroke-width="3" />
<line x1="446.96" y1="234.7" x2="446.96" y2="247.9" stroke="#262626" stroke-width="1.7" stroke-dasharray="4.4 5.3" stroke-dashoffset="2.7"/>
<line x1="446.96" y1="313.8" x2="446.96" y2="286.3" stroke="#262626" stroke-width="1.7" stroke-dasharray="4.4 5.3" stroke-dashoffset="0"/>
<rect x="441.51" y="247.9" width="10.9" height="38.4" fill="#cdcdcd" stroke="#111" stroke-width="1.4"/>
<line x1="441.51" y1="274.9" x2="452.41" y2="274.9" stroke="#000" stroke-width="3" />
<line x1="460.32" y1="234.7" x2="460.32" y2="247.9" stroke="#262626" stroke-width="1.7" stroke-dasharray="4.4 5.3" stroke-dashoffset="2.7"/>
<line x1="460.32" y1="313.8" x2="460.32" y2="286" stroke="#262626" stroke-width="1.7" stroke-dasharray="4.4 5.3" stroke-dashoffset="0"/>
<rect x="454.87" y="247.9" width="10.9" height="38.1" fill="#66d000" stroke="#111" stroke-width="1.4"/>
<line x1="454.87" y1="273.5" x2="465.77" y2="273.5" stroke="#000" stroke-width="3" />
<line x1="473.68" y1="234.7" x2="473.68" y2="247.9" stroke="#262626" stroke-width="1.7" stroke-dasharray="4.4 5.3" stroke-dashoffset="2.7"/>
<line x1="473.68" y1="313.8" x2="473.68" y2="286.3" stroke="#262626" stroke-width="1.7" stroke-dasharray="4.4 5.3" stroke-dashoffset="0"/>
<rect x="468.23" y="247.9" width="10.9" height="38.4" fill="#66d000" stroke="#111" stroke-width="1.4"/>
<line x1="468.23" y1="273.5" x2="479.13" y2="273.5" stroke="#000" stroke-width="3" />
<line x1="487.04" y1="234.7" x2="487.04" y2="247.4" stroke="#262626" stroke-width="1.7" stroke-dasharray="4.4 5.3" stroke-dashoffset="2.7"/>
<line x1="487.04" y1="313.8" x2="487.04" y2="283" stroke="#262626" stroke-width="1.7" stroke-dasharray="4.4 5.3" stroke-dashoffset="0"/>
<rect x="481.59" y="247.4" width="10.9" height="35.6" fill="#66d000" stroke="#111" stroke-width="1.4"/>
<line x1="481.59" y1="271.1" x2="492.49" y2="271.1" stroke="#000" stroke-width="3" />
<rect x="355.1" y="233.8" width="144.2" height="82.9" fill="none" stroke="#111" stroke-width="1.5"/>
<line x1="348.6" y1="237.4" x2="355.1" y2="237.4" stroke="#111" stroke-width="1.4" />
<text x="343" y="239.3" font-size="11.4" font-weight="normal" text-anchor="end" fill="#111" stroke="#111" stroke-width="0.2" >−36</text>
<line x1="348.6" y1="256.4" x2="355.1" y2="256.4" stroke="#111" stroke-width="1.4" />
<text x="343" y="258.3" font-size="11.4" font-weight="normal" text-anchor="end" fill="#111" stroke="#111" stroke-width="0.2" >−37</text>
<line x1="348.6" y1="275.4" x2="355.1" y2="275.4" stroke="#111" stroke-width="1.4" />
<text x="343" y="277.3" font-size="11.4" font-weight="normal" text-anchor="end" fill="#111" stroke="#111" stroke-width="0.2" >−38</text>
<line x1="348.6" y1="294.4" x2="355.1" y2="294.4" stroke="#111" stroke-width="1.4" />
<text x="343" y="296.3" font-size="11.4" font-weight="normal" text-anchor="end" fill="#111" stroke="#111" stroke-width="0.2" >−39</text>
<line x1="348.6" y1="313.4" x2="355.1" y2="313.4" stroke="#111" stroke-width="1.4" />
<text x="343" y="315.3" font-size="11.4" font-weight="normal" text-anchor="end" fill="#111" stroke="#111" stroke-width="0.2" >−40</text>
<line x1="366.8" y1="316.7" x2="366.8" y2="323.2" stroke="#222" stroke-width="1.4" />
<line x1="380.16" y1="316.7" x2="380.16" y2="323.2" stroke="#222" stroke-width="1.4" />
<line x1="393.52" y1="316.7" x2="393.52" y2="323.2" stroke="#222" stroke-width="1.4" />
<line x1="406.88" y1="316.7" x2="406.88" y2="323.2" stroke="#222" stroke-width="1.4" />
<line x1="420.24" y1="316.7" x2="420.24" y2="323.2" stroke="#222" stroke-width="1.4" />
<line x1="433.6" y1="316.7" x2="433.6" y2="323.2" stroke="#222" stroke-width="1.4" />
<line x1="446.96" y1="316.7" x2="446.96" y2="323.2" stroke="#222" stroke-width="1.4" />
<line x1="460.32" y1="316.7" x2="460.32" y2="323.2" stroke="#222" stroke-width="1.4" />
<line x1="473.68" y1="316.7" x2="473.68" y2="323.2" stroke="#222" stroke-width="1.4" />
<line x1="487.04" y1="316.7" x2="487.04" y2="323.2" stroke="#222" stroke-width="1.4" />
<text x="366.8" y="338" font-size="11.4" font-weight="normal" text-anchor="middle" fill="#111" stroke="#111" stroke-width="0.2" >0</text>
<text x="393.52" y="338" font-size="11.4" font-weight="normal" text-anchor="middle" fill="#111" stroke="#111" stroke-width="0.2" >2</text>
<text x="420.24" y="338" font-size="11.4" font-weight="normal" text-anchor="middle" fill="#111" stroke="#111" stroke-width="0.2" >5</text>
<text x="446.96" y="338" font-size="11.4" font-weight="normal" text-anchor="middle" fill="#111" stroke="#111" stroke-width="0.2" >11</text>
<text x="473.68" y="338" font-size="11.4" font-weight="normal" text-anchor="middle" fill="#111" stroke="#111" stroke-width="0.2" >25</text>
<text x="427.2" y="229.2" font-size="11.8" font-weight="bold" text-anchor="middle" fill="#000" stroke="#000" stroke-width="0.2" >Enhancers</text>
<line x1="313.1" y1="76" x2="313.1" y2="347.7" stroke="#000" stroke-width="1.6" />
<line x1="313.1" y1="347.7" x2="510" y2="347.7" stroke="#000" stroke-width="1.6" />
<path d="M309.5,77.7 L313.1,71.2 L316.7,77.7 Z" fill="#000"/>
<path d="M508.9,344.3 L515.8,347.7 L508.9,351.1 Z" fill="#000"/>
<text x="425" y="363.5" font-size="12" font-weight="bold" text-anchor="middle" fill="#000" stroke="#000" stroke-width="0.2" >ChIP-seq Coverage</text>
<text transform="translate(306.9,230.4) rotate(-90)" font-size="12.4" font-weight="bold" stroke="#000" stroke-width="0.2" text-anchor="middle" xml:space="preserve">GATA  Motif Binding Energy</text>
<ellipse cx="99.6" cy="479.5" rx="71.6" ry="67.5" fill="#48f848" stroke="#113311" stroke-width="1.4"/>
<defs><clipPath id="gclip"><ellipse cx="99.6" cy="479.5" rx="71.6" ry="67.5"/></clipPath></defs>
<circle cx="167" cy="484.8" r="72.6" fill="#fcb4da" stroke="#3a1030" stroke-width="1.4"/>
<circle cx="167" cy="484.8" r="72.6" fill="#d8bcb8" clip-path="url(#gclip)"/>
<ellipse cx="99.6" cy="479.5" rx="71.6" ry="67.5" fill="none" stroke="#9a6080" stroke-width="1.1" clip-path="url(#pclip)"/>
<defs><clipPath id="pclip"><circle cx="167" cy="484.8" r="72.6"/></clipPath></defs>
<circle cx="167" cy="484.8" r="72.6" fill="none" stroke="#0c1a0c" stroke-width="1.8" clip-path="url(#gclip)"/>
<text x="48.8" y="457.1" font-size="11.8" font-weight="bold" text-anchor="start" fill="#111" stroke="#111" stroke-width="0.2" >K562</text>
<text x="48.8" y="471.8" font-size="11.8" font-weight="bold" text-anchor="start" fill="#111" stroke="#111" stroke-width="0.2" >RUNX1</text>
<text x="48.8" y="486.5" font-size="11.8" font-weight="bold" text-anchor="start" fill="#111" stroke="#111" stroke-width="0.2" >Peaks</text>
<text x="51.2" y="501.2" font-size="11.8" font-weight="bold" text-anchor="start" fill="#111" stroke="#111" stroke-width="0.2" >– 3538</text>
<text x="113.3" y="479" font-size="11.8" font-weight="bold" text-anchor="start" fill="#111" stroke="#111" stroke-width="0.2" >Shared</text>
<text x="113.9" y="493.8" font-size="11.8" font-weight="bold" text-anchor="start" fill="#111" stroke="#111" stroke-width="0.2" >– 889</text>
<text x="182.8" y="457.5" font-size="11.8" font-weight="bold" text-anchor="start" fill="#1a0a14" stroke="#1a0a14" stroke-width="0.2" >K562</text>
<text x="182.8" y="471.9" font-size="11.8" font-weight="bold" text-anchor="start" fill="#1a0a14" stroke="#1a0a14" stroke-width="0.2" >GATA1</text>
<text x="182.8" y="486.3" font-size="11.8" font-weight="bold" text-anchor="start" fill="#1a0a14" stroke="#1a0a14" stroke-width="0.2" >Peaks –</text>
<text x="182.8" y="500.7" font-size="11.8" font-weight="bold" text-anchor="start" fill="#1a0a14" stroke="#1a0a14" stroke-width="0.2" >3,754</text>
<polyline points="350.8,486.68 367.38,509.22 383.96,513.59 400.54,518.19 417.12,517.02 433.7,519.36 450.28,519.36 466.86,521.7 483.44,516.24 500.02,510.78" fill="none" stroke="#c8c8c8" stroke-width="2.1" stroke-linejoin="round"/>
<polyline points="350.8,430.44 367.38,483.32 383.96,500.64 400.54,511.01 417.12,511.79 433.7,516.24 450.28,517.02 466.86,518.97 483.44,514.68 500.02,509.77" fill="none" stroke="#62bf2a" stroke-width="2.1" stroke-linejoin="round"/>
<polyline points="350.8,477.24 367.38,504.38 383.96,510.62 400.54,515.77 417.12,514.84 433.7,517.49 450.28,517.02 466.86,518.97 483.44,511.72 500.02,503.53" fill="none" stroke="#12109a" stroke-width="2.1" stroke-linejoin="round"/>
<rect x="432.3" y="411.2" width="73.5" height="36.7" fill="#fff" stroke="#000" stroke-width="1.6"/>
<rect x="439.85" y="418.25" width="5.2" height="4.6" fill="#e8e8e8" stroke="#000" stroke-width="1.9"/>
<text x="452.7" y="423.7" font-size="9.5" font-weight="normal" text-anchor="start" fill="#111" stroke="#111" stroke-width="0.2" >None</text>
<rect x="439.85" y="427.65" width="5.2" height="4.6" fill="#88cc44" stroke="#000" stroke-width="1.9"/>
<text x="452.7" y="433.1" font-size="9.5" font-weight="normal" text-anchor="start" fill="#111" stroke="#111" stroke-width="0.2" >Constitutive</text>
<rect x="439.85" y="437.05" width="5.2" height="4.6" fill="#14148c" stroke="#000" stroke-width="1.9"/>
<text x="452.7" y="442.5" font-size="9.5" font-weight="normal" text-anchor="start" fill="#111" stroke="#111" stroke-width="0.2" >De−Novo</text>
<rect x="345" y="411.2" width="160.8" height="135.1" fill="none" stroke="#000" stroke-width="2"/>
<line x1="339" y1="541.2" x2="345" y2="541.2" stroke="#111" stroke-width="1.5" />
<text x="333.8" y="543.3" font-size="6" font-weight="normal" text-anchor="end" fill="#222" stroke="#222" stroke-width="0.2" >0</text>
<line x1="339" y1="525.6" x2="345" y2="525.6" stroke="#111" stroke-width="1.5" />
<text x="333.8" y="527.7" font-size="6" font-weight="normal" text-anchor="end" fill="#222" stroke="#222" stroke-width="0.2" >2</text>
<line x1="339" y1="510" x2="345" y2="510" stroke="#111" stroke-width="1.5" />
<text x="333.8" y="512.1" font-size="6" font-weight="normal" text-anchor="end" fill="#222" stroke="#222" stroke-width="0.2" >4</text>
<line x1="339" y1="494.4" x2="345" y2="494.4" stroke="#111" stroke-width="1.5" />
<text x="333.8" y="496.5" font-size="6" font-weight="normal" text-anchor="end" fill="#222" stroke="#222" stroke-width="0.2" >6</text>
<line x1="339" y1="478.8" x2="345" y2="478.8" stroke="#111" stroke-width="1.5" />
<text x="333.8" y="480.9" font-size="6" font-weight="normal" text-anchor="end" fill="#222" stroke="#222" stroke-width="0.2" >8</text>
<line x1="339" y1="463.2" x2="345" y2="463.2" stroke="#111" stroke-width="1.5" />
<text x="333.8" y="465.3" font-size="6" font-weight="normal" text-anchor="end" fill="#222" stroke="#222" stroke-width="0.2" >10</text>
<line x1="339" y1="447.6" x2="345" y2="447.6" stroke="#111" stroke-width="1.5" />
<text x="333.8" y="449.7" font-size="6" font-weight="normal" text-anchor="end" fill="#222" stroke="#222" stroke-width="0.2" >12</text>
<line x1="339" y1="432" x2="345" y2="432" stroke="#111" stroke-width="1.5" />
<text x="333.8" y="434.1" font-size="6" font-weight="normal" text-anchor="end" fill="#222" stroke="#222" stroke-width="0.2" >14</text>
<line x1="339" y1="416.4" x2="345" y2="416.4" stroke="#111" stroke-width="1.5" />
<text x="333.8" y="418.5" font-size="6" font-weight="normal" text-anchor="end" fill="#222" stroke="#222" stroke-width="0.2" >16</text>
<line x1="350.8" y1="546.3" x2="350.8" y2="552.8" stroke="#111" stroke-width="1.5" />
<line x1="367.38" y1="546.3" x2="367.38" y2="552.8" stroke="#111" stroke-width="1.5" />
<line x1="383.96" y1="546.3" x2="383.96" y2="552.8" stroke="#111" stroke-width="1.5" />
<line x1="400.54" y1="546.3" x2="400.54" y2="552.8" stroke="#111" stroke-width="1.5" />
<line x1="417.12" y1="546.3" x2="417.12" y2="552.8" stroke="#111" stroke-width="1.5" />
<line x1="433.7" y1="546.3" x2="433.7" y2="552.8" stroke="#111" stroke-width="1.5" />
<line x1="450.28" y1="546.3" x2="450.28" y2="552.8" stroke="#111" stroke-width="1.5" />
<line x1="466.86" y1="546.3" x2="466.86" y2="552.8" stroke="#111" stroke-width="1.5" />
<line x1="483.44" y1="546.3" x2="483.44" y2="552.8" stroke="#111" stroke-width="1.5" />
<line x1="500.02" y1="546.3" x2="500.02" y2="552.8" stroke="#111" stroke-width="1.5" />
<text x="350.8" y="567.4" font-size="6" font-weight="normal" text-anchor="middle" fill="#222" stroke="#222" stroke-width="0.2" >44</text>
<text x="367.38" y="567.4" font-size="6" font-weight="normal" text-anchor="middle" fill="#222" stroke="#222" stroke-width="0.2" >70</text>
<text x="383.96" y="567.4" font-size="6" font-weight="normal" text-anchor="middle" fill="#222" stroke="#222" stroke-width="0.2" >98</text>
<text x="400.54" y="567.4" font-size="6" font-weight="normal" text-anchor="middle" fill="#222" stroke="#222" stroke-width="0.2" >124</text>
<text x="417.12" y="567.4" font-size="6" font-weight="normal" text-anchor="middle" fill="#222" stroke="#222" stroke-width="0.2" >152</text>
<text x="433.7" y="567.4" font-size="6" font-weight="normal" text-anchor="middle" fill="#222" stroke="#222" stroke-width="0.2" >178</text>
<text x="450.28" y="567.4" font-size="6" font-weight="normal" text-anchor="middle" fill="#222" stroke="#222" stroke-width="0.2" >206</text>
<text x="466.86" y="567.4" font-size="6" font-weight="normal" text-anchor="middle" fill="#222" stroke="#222" stroke-width="0.2" >232</text>
<text x="483.44" y="567.4" font-size="6" font-weight="normal" text-anchor="middle" fill="#222" stroke="#222" stroke-width="0.2" >260</text>
<text x="500.02" y="567.4" font-size="6" font-weight="normal" text-anchor="middle" fill="#222" stroke="#222" stroke-width="0.2" >286</text>
<text x="423.8" y="400.2" font-size="12" font-weight="bold" text-anchor="middle" fill="#000" stroke="#000" stroke-width="0.2" >To Proximal GATA Motif</text>
<text x="424.3" y="591.5" font-size="12" font-weight="bold" text-anchor="middle" fill="#000" stroke="#000" stroke-width="0.2" >Distance to GATA Motif (bp)</text>
<text transform="translate(307.9,478.8) rotate(-90)" font-size="12.1" font-weight="bold" stroke="#000" stroke-width="0.2" text-anchor="middle">RUNX1 Bound Sites (%)</text>
<polyline points="72.7,777.48 88.42,779.36 104.14,779.57 119.86,779.57 135.58,779.36 151.3,779.36 167.02,779.15 182.74,778.52 198.46,776.23 214.18,773.73" fill="none" stroke="#c8c8c8" stroke-width="2.1" stroke-linejoin="round"/>
<polyline points="72.7,683.73 88.42,732.06 104.14,748.31 119.86,757.9 135.58,759.98 151.3,761.65 167.02,759.56 182.74,761.23 198.46,757.06 214.18,755.4" fill="none" stroke="#62bf2a" stroke-width="2.1" stroke-linejoin="round"/>
<polyline points="72.7,750.61 88.42,764.57 104.14,767.27 119.86,769.36 135.58,767.9 151.3,768.52 167.02,767.27 182.74,769.77 198.46,767.27 214.18,764.15" fill="none" stroke="#12109a" stroke-width="2.1" stroke-linejoin="round"/>
<rect x="146.3" y="652.5" width="73.5" height="37.2" fill="#fff" stroke="#000" stroke-width="1.6"/>
<rect x="153.35" y="659.9" width="5.2" height="4.6" fill="#e8e8e8" stroke="#000" stroke-width="1.9"/>
<text x="166.2" y="665.4" font-size="9.5" font-weight="normal" text-anchor="start" fill="#111" stroke="#111" stroke-width="0.2" >None</text>
<rect x="153.35" y="668.95" width="5.2" height="4.6" fill="#88cc44" stroke="#000" stroke-width="1.9"/>
<text x="166.2" y="674.45" font-size="9.5" font-weight="normal" text-anchor="start" fill="#111" stroke="#111" stroke-width="0.2" >Constitutive</text>
<rect x="153.35" y="678.25" width="5.2" height="4.6" fill="#14148c" stroke="#000" stroke-width="1.9"/>
<text x="166.2" y="683.75" font-size="9.5" font-weight="normal" text-anchor="start" fill="#111" stroke="#111" stroke-width="0.2" >De−Novo</text>
<rect x="67" y="652.5" width="152.8" height="135" fill="none" stroke="#000" stroke-width="2"/>
<line x1="61" y1="782.9" x2="67" y2="782.9" stroke="#111" stroke-width="1.5" />
<text x="55.6" y="785" font-size="6" font-weight="normal" text-anchor="end" fill="#222" stroke="#222" stroke-width="0.2" >0</text>
<line x1="61" y1="770.4" x2="67" y2="770.4" stroke="#111" stroke-width="1.5" />
<text x="55.6" y="772.5" font-size="6" font-weight="normal" text-anchor="end" fill="#222" stroke="#222" stroke-width="0.2" >3</text>
<line x1="61" y1="757.9" x2="67" y2="757.9" stroke="#111" stroke-width="1.5" />
<text x="55.6" y="760" font-size="6" font-weight="normal" text-anchor="end" fill="#222" stroke="#222" stroke-width="0.2" >6</text>
<line x1="61" y1="745.4" x2="67" y2="745.4" stroke="#111" stroke-width="1.5" />
<text x="55.6" y="747.5" font-size="6" font-weight="normal" text-anchor="end" fill="#222" stroke="#222" stroke-width="0.2" >9</text>
<line x1="61" y1="732.9" x2="67" y2="732.9" stroke="#111" stroke-width="1.5" />
<text x="55.6" y="735" font-size="6" font-weight="normal" text-anchor="end" fill="#222" stroke="#222" stroke-width="0.2" >12</text>
<line x1="61" y1="720.39" x2="67" y2="720.39" stroke="#111" stroke-width="1.5" />
<text x="55.6" y="722.5" font-size="6" font-weight="normal" text-anchor="end" fill="#222" stroke="#222" stroke-width="0.2" >15</text>
<line x1="61" y1="707.89" x2="67" y2="707.89" stroke="#111" stroke-width="1.5" />
<text x="55.6" y="709.99" font-size="6" font-weight="normal" text-anchor="end" fill="#222" stroke="#222" stroke-width="0.2" >18</text>
<line x1="61" y1="695.39" x2="67" y2="695.39" stroke="#111" stroke-width="1.5" />
<text x="55.6" y="697.49" font-size="6" font-weight="normal" text-anchor="end" fill="#222" stroke="#222" stroke-width="0.2" >21</text>
<line x1="61" y1="682.89" x2="67" y2="682.89" stroke="#111" stroke-width="1.5" />
<text x="55.6" y="684.99" font-size="6" font-weight="normal" text-anchor="end" fill="#222" stroke="#222" stroke-width="0.2" >24</text>
<line x1="61" y1="670.39" x2="67" y2="670.39" stroke="#111" stroke-width="1.5" />
<text x="55.6" y="672.49" font-size="6" font-weight="normal" text-anchor="end" fill="#222" stroke="#222" stroke-width="0.2" >27</text>
<line x1="61" y1="657.89" x2="67" y2="657.89" stroke="#111" stroke-width="1.5" />
<text x="55.6" y="659.99" font-size="6" font-weight="normal" text-anchor="end" fill="#222" stroke="#222" stroke-width="0.2" >30</text>
<line x1="72.7" y1="787.5" x2="72.7" y2="794" stroke="#111" stroke-width="1.5" />
<line x1="88.42" y1="787.5" x2="88.42" y2="794" stroke="#111" stroke-width="1.5" />
<line x1="104.14" y1="787.5" x2="104.14" y2="794" stroke="#111" stroke-width="1.5" />
<line x1="119.86" y1="787.5" x2="119.86" y2="794" stroke="#111" stroke-width="1.5" />
<line x1="135.58" y1="787.5" x2="135.58" y2="794" stroke="#111" stroke-width="1.5" />
<line x1="151.3" y1="787.5" x2="151.3" y2="794" stroke="#111" stroke-width="1.5" />
<line x1="167.02" y1="787.5" x2="167.02" y2="794" stroke="#111" stroke-width="1.5" />
<line x1="182.74" y1="787.5" x2="182.74" y2="794" stroke="#111" stroke-width="1.5" />
<line x1="198.46" y1="787.5" x2="198.46" y2="794" stroke="#111" stroke-width="1.5" />
<line x1="214.18" y1="787.5" x2="214.18" y2="794" stroke="#111" stroke-width="1.5" />
<text x="72.7" y="809" font-size="6" font-weight="normal" text-anchor="middle" fill="#222" stroke="#222" stroke-width="0.2" >44</text>
<text x="88.42" y="809" font-size="6" font-weight="normal" text-anchor="middle" fill="#222" stroke="#222" stroke-width="0.2" >70</text>
<text x="104.14" y="809" font-size="6" font-weight="normal" text-anchor="middle" fill="#222" stroke="#222" stroke-width="0.2" >98</text>
<text x="119.86" y="809" font-size="6" font-weight="normal" text-anchor="middle" fill="#222" stroke="#222" stroke-width="0.2" >124</text>
<text x="135.58" y="809" font-size="6" font-weight="normal" text-anchor="middle" fill="#222" stroke="#222" stroke-width="0.2" >152</text>
<text x="151.3" y="809" font-size="6" font-weight="normal" text-anchor="middle" fill="#222" stroke="#222" stroke-width="0.2" >178</text>
<text x="167.02" y="809" font-size="6" font-weight="normal" text-anchor="middle" fill="#222" stroke="#222" stroke-width="0.2" >206</text>
<text x="182.74" y="809" font-size="6" font-weight="normal" text-anchor="middle" fill="#222" stroke="#222" stroke-width="0.2" >232</text>
<text x="198.46" y="809" font-size="6" font-weight="normal" text-anchor="middle" fill="#222" stroke="#222" stroke-width="0.2" >260</text>
<text x="214.18" y="809" font-size="6" font-weight="normal" text-anchor="middle" fill="#222" stroke="#222" stroke-width="0.2" >286</text>
<text x="141.7" y="641.5" font-size="12" font-weight="bold" text-anchor="middle" fill="#000" stroke="#000" stroke-width="0.2" >To Proximal K562 GATA1 Peak</text>
<svg x="0" y="810" width="227.2" height="29" overflow="hidden"><text x="52.1" y="21.9" font-size="10.8" font-weight="bold" stroke="#000" stroke-width="0.2">Distance To GATA1 ChIP−Seq Peak</text></svg>
<text transform="translate(30.4,792.6) rotate(-90)" font-size="10.9" font-weight="bold" stroke="#000" stroke-width="0.2">RUNX1 Bound Sites <tspan font-weight="normal" font-size="11">(10<tspan dy="-4.3" font-size="6.6">−1</tspan><tspan dy="4.3">%)</tspan></tspan></text>
<polyline points="352.9,767.6 369.5,771.64 386.1,771.64 402.7,771.84 419.3,771.23 435.9,771.64 452.5,771.44 469.1,771.64 485.7,769.62 502.3,763.97" fill="none" stroke="#c8c8c8" stroke-width="2.1" stroke-linejoin="round"/>
<polyline points="352.9,672.43 369.5,723.64 386.1,739.57 402.7,747.04 419.3,745.99 435.9,752.28 452.5,755.91 469.1,760.75 485.7,759.54 502.3,757.32" fill="none" stroke="#62bf2a" stroke-width="2.1" stroke-linejoin="round"/>
<polyline points="352.9,727.27 369.5,746.63 386.1,748.45 402.7,752.68 419.3,751.07 435.9,755.91 452.5,757.12 469.1,760.55 485.7,756.72 502.3,752.68" fill="none" stroke="#12109a" stroke-width="2.1" stroke-linejoin="round"/>
<rect x="435.3" y="653.5" width="73.4" height="36.7" fill="#fff" stroke="#000" stroke-width="1.6"/>
<rect x="442.2" y="660.8" width="5.2" height="4.6" fill="#e8e8e8" stroke="#000" stroke-width="1.9"/>
<text x="454.9" y="666.2" font-size="9.6" font-weight="normal" text-anchor="start" fill="#111" stroke="#111" stroke-width="0.2" >None</text>
<rect x="442.2" y="669.6" width="5.2" height="4.6" fill="#88cc44" stroke="#000" stroke-width="1.9"/>
<text x="454.9" y="675" font-size="9.6" font-weight="normal" text-anchor="start" fill="#111" stroke="#111" stroke-width="0.2" >Constitutive</text>
<rect x="442.2" y="678.8" width="5.2" height="4.6" fill="#14148c" stroke="#000" stroke-width="1.9"/>
<text x="454.9" y="684.2" font-size="9.6" font-weight="normal" text-anchor="start" fill="#111" stroke="#111" stroke-width="0.2" >De−Novo</text>
<rect x="347.2" y="653.5" width="161.5" height="130.5" fill="none" stroke="#000" stroke-width="2"/>
<line x1="341.2" y1="779.3" x2="347.2" y2="779.3" stroke="#111" stroke-width="1.5" />
<text x="335.4" y="783.25" font-size="10.6" font-weight="normal" text-anchor="end" fill="#222" stroke="#222" stroke-width="0.2" >0</text>
<line x1="341.2" y1="767.2" x2="347.2" y2="767.2" stroke="#111" stroke-width="1.5" />
<text x="335.4" y="771.15" font-size="10.6" font-weight="normal" text-anchor="end" fill="#222" stroke="#222" stroke-width="0.2" >3</text>
<line x1="341.2" y1="755.1" x2="347.2" y2="755.1" stroke="#111" stroke-width="1.5" />
<text x="335.4" y="759.05" font-size="10.6" font-weight="normal" text-anchor="end" fill="#222" stroke="#222" stroke-width="0.2" >6</text>
<line x1="341.2" y1="743" x2="347.2" y2="743" stroke="#111" stroke-width="1.5" />
<text x="335.4" y="746.95" font-size="10.6" font-weight="normal" text-anchor="end" fill="#222" stroke="#222" stroke-width="0.2" >9</text>
<line x1="341.2" y1="730.9" x2="347.2" y2="730.9" stroke="#111" stroke-width="1.5" />
<text x="335.4" y="734.85" font-size="10.6" font-weight="normal" text-anchor="end" fill="#222" stroke="#222" stroke-width="0.2" >12</text>
<line x1="341.2" y1="718.8" x2="347.2" y2="718.8" stroke="#111" stroke-width="1.5" />
<text x="335.4" y="722.75" font-size="10.6" font-weight="normal" text-anchor="end" fill="#222" stroke="#222" stroke-width="0.2" >15</text>
<line x1="341.2" y1="706.71" x2="347.2" y2="706.71" stroke="#111" stroke-width="1.5" />
<text x="335.4" y="710.66" font-size="10.6" font-weight="normal" text-anchor="end" fill="#222" stroke="#222" stroke-width="0.2" >18</text>
<line x1="341.2" y1="694.61" x2="347.2" y2="694.61" stroke="#111" stroke-width="1.5" />
<text x="335.4" y="698.56" font-size="10.6" font-weight="normal" text-anchor="end" fill="#222" stroke="#222" stroke-width="0.2" >21</text>
<line x1="341.2" y1="682.51" x2="347.2" y2="682.51" stroke="#111" stroke-width="1.5" />
<text x="335.4" y="686.46" font-size="10.6" font-weight="normal" text-anchor="end" fill="#222" stroke="#222" stroke-width="0.2" >24</text>
<line x1="341.2" y1="670.41" x2="347.2" y2="670.41" stroke="#111" stroke-width="1.5" />
<text x="335.4" y="674.36" font-size="10.6" font-weight="normal" text-anchor="end" fill="#222" stroke="#222" stroke-width="0.2" >27</text>
<line x1="341.2" y1="658.31" x2="347.2" y2="658.31" stroke="#111" stroke-width="1.5" />
<text x="335.4" y="662.26" font-size="10.6" font-weight="normal" text-anchor="end" fill="#222" stroke="#222" stroke-width="0.2" >30</text>
<line x1="352.9" y1="784" x2="352.9" y2="790.5" stroke="#111" stroke-width="1.5" />
<line x1="369.5" y1="784" x2="369.5" y2="790.5" stroke="#111" stroke-width="1.5" />
<line x1="386.1" y1="784" x2="386.1" y2="790.5" stroke="#111" stroke-width="1.5" />
<line x1="402.7" y1="784" x2="402.7" y2="790.5" stroke="#111" stroke-width="1.5" />
<line x1="419.3" y1="784" x2="419.3" y2="790.5" stroke="#111" stroke-width="1.5" />
<line x1="435.9" y1="784" x2="435.9" y2="790.5" stroke="#111" stroke-width="1.5" />
<line x1="452.5" y1="784" x2="452.5" y2="790.5" stroke="#111" stroke-width="1.5" />
<line x1="469.1" y1="784" x2="469.1" y2="790.5" stroke="#111" stroke-width="1.5" />
<line x1="485.7" y1="784" x2="485.7" y2="790.5" stroke="#111" stroke-width="1.5" />
<line x1="502.3" y1="784" x2="502.3" y2="790.5" stroke="#111" stroke-width="1.5" />
<text x="352.9" y="805.6" font-size="10.6" font-weight="normal" text-anchor="middle" fill="#222" stroke="#222" stroke-width="0.2" >44</text>
<text x="386.1" y="805.6" font-size="10.6" font-weight="normal" text-anchor="middle" fill="#222" stroke="#222" stroke-width="0.2" >98</text>
<text x="419.3" y="805.6" font-size="10.6" font-weight="normal" text-anchor="middle" fill="#222" stroke="#222" stroke-width="0.2" >152</text>
<text x="452.5" y="805.6" font-size="10.6" font-weight="normal" text-anchor="middle" fill="#222" stroke="#222" stroke-width="0.2" >206</text>
<text x="485.7" y="805.6" font-size="10.6" font-weight="normal" text-anchor="middle" fill="#222" stroke="#222" stroke-width="0.2" >260</text>
<text x="425.7" y="626.4" font-size="11.8" font-weight="bold" text-anchor="middle" fill="#000" stroke="#000" stroke-width="0.2" >To proximal GATA1 peak</text>
<text x="427.1" y="640.9" font-size="11.8" font-weight="bold" text-anchor="middle" fill="#000" stroke="#000" stroke-width="0.2" >In K562+TPA</text>
<svg x="0" y="810" width="512.9" height="29" overflow="hidden"><text x="337.6" y="18.3" font-size="10.83" font-weight="bold" stroke="#000" stroke-width="0.2">Distance to GATA1 ChIP−Seq Peak</text></svg>
<text transform="translate(310.4,791.1) rotate(-90)" font-size="11" font-weight="bold" stroke="#000" stroke-width="0.2">RUNX1 Bound Sites <tspan font-weight="normal" font-size="10.6">(10<tspan dy="-4.3" font-size="6.4">−1</tspan><tspan dy="4.3">%)</tspan></tspan></text>
</svg></body></html>
